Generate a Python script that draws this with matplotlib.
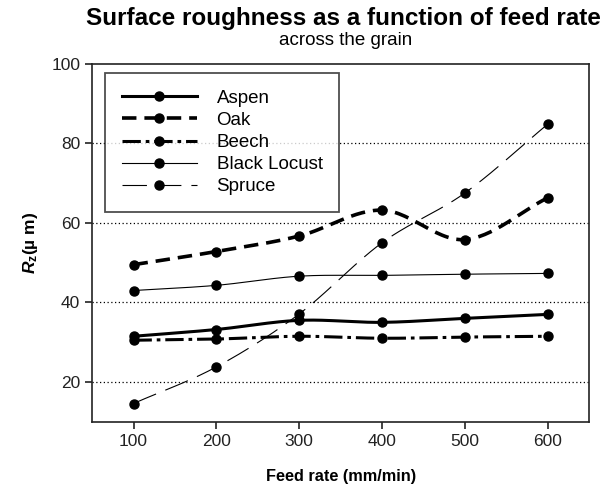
import numpy as np
import matplotlib
matplotlib.use("Agg")
import matplotlib.pyplot as plt

plt.rcParams['font.family'] = ['Liberation Sans', 'DejaVu Sans']
plt.rcParams['mathtext.fontset'] = 'custom'
plt.rcParams['mathtext.rm'] = 'Liberation Sans'
plt.rcParams['mathtext.it'] = 'Liberation Sans:italic:bold'
plt.rcParams['mathtext.bf'] = 'Liberation Sans:bold'

# feed rate (mm/min) and Rz (um) across the grain
feed_rate = [100, 200, 300, 400, 500, 600]
aspen = [31.5, 33.2, 35.5, 35.0, 36.0, 37.0]
oak = [49.5, 52.8, 56.7, 63.2, 55.8, 66.3]
beech = [30.5, 30.8, 31.5, 31.0, 31.3, 31.5]
black_locust = [43.0, 44.3, 46.6, 46.8, 47.1, 47.3]
spruce = [14.6, 23.8, 37.1, 55.0, 67.5, 84.8]


def smooth(x, y, n=30):
    # catmull-rom curve through the points, only for drawing the line
    x = np.asarray(x, float)
    y = np.asarray(y, float)
    px = np.concatenate([[2 * x[0] - x[1]], x, [2 * x[-1] - x[-2]]])
    py = np.concatenate([[2 * y[0] - y[1]], y, [2 * y[-1] - y[-2]]])
    xs, ys = [], []
    t = np.linspace(0, 1, n)
    for i in range(1, len(px) - 2):
        for p, out in ((px, xs), (py, ys)):
            p0, p1, p2, p3 = p[i - 1], p[i], p[i + 1], p[i + 2]
            out.append(0.5 * (2 * p1 + (-p0 + p2) * t
                              + (2 * p0 - 5 * p1 + 4 * p2 - p3) * t ** 2
                              + (-p0 + 3 * p1 - 3 * p2 + p3) * t ** 3))
    return np.concatenate(xs), np.concatenate(ys)


series = [
    ('Aspen', aspen, dict(lw=2.2, ls='-')),
    ('Oak', oak, dict(lw=2.6, ls=(0, (4, 2.2)))),
    ('Beech', beech, dict(lw=2.2, ls=(0, (6, 1.6, 1.2, 1.6)))),
    ('Black Locust', black_locust, dict(lw=0.8, ls='-')),
    ('Spruce', spruce, dict(lw=0.8, ls=(0, (22, 9)))),
]

fig = plt.figure(figsize=(6.06, 4.98), dpi=100)
ax = fig.add_axes([0.152, 0.153, 0.820, 0.719])

for name, vals, st in series:
    sx, sy = smooth(feed_rate, vals)
    ax.plot(sx, sy, color='black', lw=st['lw'], ls=st['ls'])
    ax.plot(feed_rate, vals, 'o', color='black', ms=6.5)
    ax.plot([], [], color='black', lw=st['lw'], ls=st['ls'],
            marker='o', ms=6.5, label=name)

ax.set_xlim(50, 650)
ax.set_ylim(10, 100)
ax.set_xticks(feed_rate)
ax.set_yticks([20, 40, 60, 80, 100])
ax.tick_params(labelsize=12.5, length=5, width=1.2, direction='out', colors='#222222')
for sp in ax.spines.values():
    sp.set_linewidth(1.2)
    sp.set_color('#222222')
for yv in [20, 40, 60, 80]:
    ax.axhline(yv, color='black', ls=(0, (1, 2)), lw=0.9, zorder=0)

ax.set_xlabel('Feed rate (mm/min)', fontsize=11.7, fontweight='bold', labelpad=15)
ax.set_ylabel(r'$\mathit{R}_{\mathbf{z}}$(µ m)', fontsize=12.5, fontweight='bold', labelpad=8)

leg = ax.legend(loc='upper left', fontsize=13.5, frameon=True, fancybox=False,
                edgecolor='#222222', handlelength=4.0, handletextpad=1.05,
                borderpad=0.9, labelspacing=0.27, borderaxespad=0,
                bbox_to_anchor=(0.026, 0.975))
leg.get_frame().set_linewidth(1.3)

fig.text(0.566, 0.962, 'Surface roughness as a function of feed rate',
         ha='center', va='center', fontsize=17.5, fontweight='bold')
fig.text(0.571, 0.918, 'across the grain', ha='center', va='center', fontsize=13.5)

plt.savefig('out.png', dpi=100)
plt.close()
